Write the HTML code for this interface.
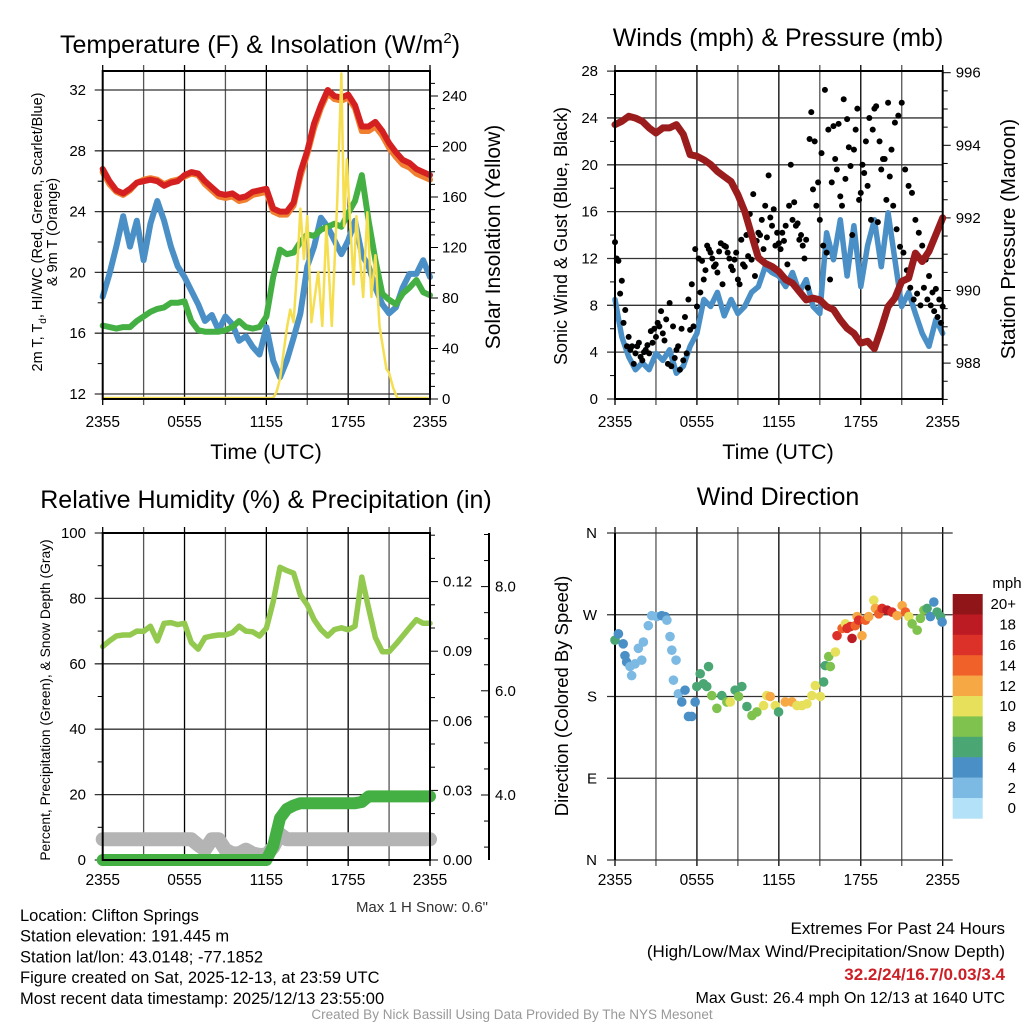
<!DOCTYPE html>
<html><head><meta charset="utf-8">
<style>
html,body{margin:0;padding:0;background:#fff;}
svg{display:block;font-family:"Liberation Sans",sans-serif;}
</style></head>
<body>
<svg id="chart" width="1024" height="1024" viewBox="0 0 1024 1024" xmlns="http://www.w3.org/2000/svg"></svg>
<script>
// ===== Data (hours since 2355 UTC; 0.5h grid) =====
const hourTicks = ['2355','0555','1155','1755','2355'];
const tempRed = [26.8,26.0,25.4,25.2,25.5,25.9,26.0,26.1,26.0,25.7,25.9,26.0,26.4,26.6,26.5,26.0,25.6,25.2,25.1,25.2,24.9,25.0,25.3,25.4,25.5,24.2,24.0,24.0,24.6,26.6,28.0,29.8,31.0,32.0,31.6,31.5,31.7,31.0,29.6,29.6,29.9,29.3,28.5,27.9,27.4,27.2,26.8,26.6,26.4];
const tempOrange = [26.6,25.8,25.3,25.1,25.4,25.9,26.1,26.2,26.1,25.8,26.0,26.1,26.3,26.5,26.4,25.8,25.4,25.0,24.9,25.0,24.7,24.8,25.1,25.2,25.3,24.0,23.8,23.8,24.4,26.3,27.8,29.5,30.8,31.8,31.4,31.3,31.5,30.8,29.3,29.3,29.6,29.0,28.2,27.6,27.1,26.9,26.5,26.3,26.1];
const hiGreen = [16.5,16.4,16.3,16.4,16.4,16.8,17.1,17.4,17.6,17.7,18.0,18.0,18.1,16.8,16.2,16.1,16.1,16.1,16.2,16.4,16.8,16.4,16.3,16.4,17.1,19.7,21.5,21.2,21.3,22.0,22.5,22.4,22.8,23.0,23.2,23.0,23.9,24.7,26.4,23.4,20.8,18.6,18.2,17.9,18.6,19.0,19.5,18.7,18.5];
const dewBlue = [18.4,19.9,21.7,23.7,21.7,23.4,20.8,23.2,24.7,23.4,21.7,20.4,19.7,18.8,17.9,16.8,17.2,16.2,17.1,16.6,15.5,15.8,15.1,14.6,16.4,14.2,13.1,14.2,15.7,17.3,20.4,21.7,23.6,23.0,22.1,21.2,22.1,23.4,21.2,20.4,19.0,17.9,17.3,17.7,19.0,19.9,19.9,20.8,19.7];
const solarHours = [0,12.5,12.75,13,13.25,13.5,13.75,14,14.25,14.5,14.75,15.0,15.3,15.8,16.1,16.4,16.8,17.2,17.5,17.7,17.9,18.4,18.6,19.1,19.4,19.7,20.0,20.3,20.8,21.0,21.3,21.6,24];
const solarValues = [0,0,5,15,35,55,70,60,100,150,110,144,60,100,57,136,57,157,257,136,189,90,144,80,147,80,113,57,23,20,8,0,0];

const windBlue = [8.5,5.3,3.6,2.5,3.1,2.5,3.9,3.3,4.2,2.2,2.8,4.5,5.6,8.5,7.9,9.1,7.1,8.5,7.3,7.9,9.1,9.6,11.3,10.8,10.5,9.6,10.8,9.1,10.2,7.9,7.3,14.2,11.9,15.3,10.5,14.8,9.6,13.1,15.3,11.3,15.9,11.9,7.9,9.1,7.3,5.6,4.5,6.8,5.6];
const gustBlack = [13.4,11.8,10.1,7.6,5.3,4.5,3.9,4.8,3.3,4.2,3.9,4.8,5.3,6.2,5.6,6.8,8.2,6.2,4.2,2.5,3.3,3.9,5.9,6.2,7.9,9.1,10.2,13.1,12.5,11.3,10.8,13.3,13.1,12.5,11.3,11.9,10.2,13.6,11.3,12.2,11.9,10.5,14.2,15.3,16.5,19.1,14.8,13.1,13.3,14.2,14.8,16.5,15.3,14.8,13.6,13.1,13.6,22.2,17.9,16.5,15.3,13.1,12.5,10.2,23.3,19.6,17.3,25.6,23.9,19.9,21.3,24.8,17.6,19.3,18.2,15.3,24.8,15.1,19.6,20.5,25.3,21.3,23.6,24.2,25.3,19.6,18.2,17.6,15.3,14.2,13.1,11.9,10.5,9.1,9.4,8.5,7.9];
const gustBlack2 = [12.0,9.0,6.5,4.5,4.2,3.0,4.5,3.6,4.0,4.6,5.8,6.0,6.5,7.5,5.0,3.0,2.8,3.5,4.5,6.0,7.0,8.5,9.8,12.8,12.0,11.8,11.0,12.8,12.0,11.5,12.6,9.8,13.0,12.0,11.0,12.5,9.8,11.5,14.0,15.8,17.5,13.5,14.0,12.8,13.8,15.5,16.2,14.2,12.8,13.5,11.5,20.0,16.8,15.0,14.0,12.0,9.5,24.5,22.0,18.5,21.0,26.4,23.0,18.5,20.5,23.5,16.5,18.8,21.5,14.0,23.0,17.0,20.0,22.0,24.0,23.0,25.0,22.0,20.5,17.0,19.0,16.5,14.5,13.0,12.5,11.0,9.5,8.5,9.0,8.0,9.5,8.5,8.0,7.5,7.0,6.5];
const pressure = [994.57,994.66,994.8,994.75,994.66,994.48,994.34,994.48,994.48,994.57,994.3,993.74,993.7,993.6,993.47,993.28,993.14,993.0,992.64,992.18,991.54,990.9,990.75,990.66,990.52,990.3,990.2,989.97,989.74,989.79,989.74,989.56,989.47,989.19,988.96,988.82,988.55,988.6,988.4,988.96,989.56,989.79,990.25,990.34,991.03,990.8,991.08,991.54,992.0];

const rhGreen = [65.3,67.0,68.5,68.8,68.8,70.0,69.9,71.5,67.0,72.4,72.6,72.0,72.4,66.5,64.5,68.0,68.5,68.8,68.8,69.5,71.5,70.0,69.8,68.5,70.9,79,89.5,88.5,87.7,81,78,73.5,70.5,68.5,70.5,71.0,70.4,71.5,86.5,77,68,63.7,63.7,66.0,68.5,71.0,73.5,72.4,72.4];
const precip = [0,0,0,0,0,0,0,0,0,0,0,0,0,0,0,0,0,0,0,0,0,0,0,0,0,0.006,0.018,0.022,0.0235,0.0245,0.0245,0.0245,0.0245,0.0245,0.0245,0.0245,0.0245,0.0245,0.025,0.0274,0.0274,0.0274,0.0274,0.0274,0.0274,0.0274,0.0274,0.0274,0.0274];
const snowDepth = [3.15,3.15,3.15,3.15,3.15,3.15,3.15,3.15,3.15,3.15,3.15,3.15,3.15,3.15,3.04,2.95,3.15,3.15,2.95,2.88,2.88,2.95,2.88,2.85,2.85,3.0,3.25,3.15,3.15,3.15,3.15,3.15,3.15,3.15,3.15,3.15,3.15,3.15,3.15,3.15,3.15,3.15,3.15,3.15,3.15,3.15,3.15,3.15,3.15];

const dirHours = [0,0.25,0.6,0.73,0.85,1.1,1.22,1.47,1.71,1.96,2.08,2.44,2.69,3.06,3.42,3.67,3.8,4.03,4.16,4.47,4.28,4.64,4.89,5.13,5.38,5.62,5.87,5.99,6.24,6.48,6.85,6.72,7.09,7.46,7.82,8.19,8.44,8.8,9.05,9.29,9.66,10.03,10.39,10.88,11.12,11.37,11.74,11.98,12.47,12.96,13.33,13.69,14.06,14.42,14.67,15.04,15.28,15.4,15.65,15.77,16.14,16.26,16.63,16.87,16.99,17.24,17.36,17.6,17.73,17.85,18.09,18.34,18.58,18.95,19.07,19.32,19.56,19.93,20.29,20.66,21.03,21.27,21.52,21.76,22.13,22.37,22.62,22.86,23.1,23.35,23.59,23.84,23.96];
const dirDegrees = [242,249,238,225,218,213,203,216,233,220,240,258,269,268,269,268,264,246,231,220,198,183,174,187,158,158,174,191,205,194,213,191,181,167,181,174,174,187,180,191,169,159,163,170,181,180,170,163,174,174,170,170,172,181,192,180,196,214,224,213,229,247,255,260,255,257,244,258,268,264,247,264,268,286,277,271,277,275,273,269,280,273,268,260,253,266,275,277,268,284,273,268,262];
const dirSpeeds = [7,5,4,4,4,3,2,2,2,2,2,2,2,3,4,4,3,2,2,2,2,2,4,4,4,4,4,6,6,6,6,6,8,8,6,8,10,6,8,6,6,8,8,10,10,12,10,6,12,12,10,10,10,10,10,10,6,6,8,8,10,16,14,10,16,16,18,14,12,16,12,14,12,10,12,14,16,18,16,12,12,14,10,8,8,8,8,6,4,4,6,6,4];
const speedBins = ['0','2','4','6','8','10','12','14','16','18','20+'];
const speedColors = ['#b3e1f7','#7cb9e3','#4a90c7','#4aa673','#7fc24d','#e6e05a','#f6a845','#ef6129','#dc3128','#bd1b23','#8f1519'];

// ===== helpers =====
const NS='http://www.w3.org/2000/svg';
const svg=document.getElementById('chart');
function mk(tag,attrs,parent,name,inter){
  const el=document.createElementNS(NS,tag);
  for(const k in attrs) el.setAttribute(k,attrs[k]);
  
  
  (parent||svg).appendChild(el);
  return el;
}
function txt(s,x,y,size,anchor,name,extra){
  const a=Object.assign({x:x,y:y,'font-size':size,'text-anchor':anchor||'middle',fill:'#000'},extra||{});
  const t=mk('text',a,null,name,false);
  t.textContent=s;
  return t;
}
function ln(x1,y1,x2,y2,w,c,name){return mk('line',{x1:x1,y1:y1,x2:x2,y2:y2,stroke:c||'#000','stroke-width':w||1},null,name,false);}
function poly(pts,w,c,name,parent){
  return mk('polyline',{points:pts.map(p=>p[0].toFixed(1)+','+p[1].toFixed(1)).join(' '),fill:'none',stroke:c,'stroke-width':w,'stroke-linejoin':'round','stroke-linecap':'round'},parent,name,false);
}
function grid(L,R,T,B,hlines,nameBase){
  for(let i=0;i<=8;i++){const x=L+i*(R-L)/8; ln(x,T-6,x,B+6,1.3,i%2? '#555':'#000',nameBase+'-vgrid');}
  hlines.forEach(y=>ln(L-8,y,R,y,1.3,'#333',nameBase+'-hgrid'));
}
function frame(L,R,T,B,name){mk('rect',{x:L,y:T,width:R-L,height:B-T,fill:'none',stroke:'#000','stroke-width':2},null,name,false);}
function xlabels(L,R,y,name){hourTicks.forEach((s,i)=>txt(s,L+i*(R-L)/4,y,15.5,'middle',name));}

// ===== Panel 1: Temperature =====
(function(){
  const L=102.7,R=430,T=71,B=399;
  const xs=h=>L+h*(R-L)/24;
  const ys=v=>394-(v-12)*15.2;
  const ysol=v=>399-v*1.2625;
  const gy=[];
  for(let v=12;v<=32;v+=4) gy.push(ys(v));
  grid(L,R,T,B,gy,'temp');
  for(let v=14;v<=30;v+=4) ln(L-5,ys(v),L,ys(v),1,'#000','temp-minor-tick');
  for(let v=12;v<=32;v+=4) txt(String(v),86,ys(v)+5,15,'end','temp-y-tick-label');
  for(let v=0;v<=250;v+=10){const y=ysol(v); if(y<T) break; ln(R,y,R+(v%40==0?8:5),y,1,'#000','solar-tick');}
  for(let v=0;v<=240;v+=40) txt(String(v),R+12,ysol(v)+5,15,'start','solar-y-tick-label');
  const half=(a)=>a.map((v,i)=>[xs(i*0.5),ys(v)]);
  poly(half(dewBlue),6,'#4a90c7','dewpoint-line');
  poly(half(hiGreen),6,'#44b044','heat-index-line');
  poly(half(tempOrange),6,'#f08030','temp-9m-line');
  poly(half(tempRed),6,'#d42020','temp-2m-line');
  const clip=mk('clipPath',{id:'c1'},null,'solar-clip',false);
  mk('rect',{x:L,y:T,width:R-L,height:B-T+4},clip,'solar-clip-rect',false);
  const sp=poly(solarHours.map((h,i)=>[xs(h),ysol(solarValues[i])-1]),2.5,'#f5de50','solar-line');
  sp.setAttribute('clip-path','url(#c1)');
  frame(L,R,T,B,'temp-plot-frame');
  xlabels(L,R,427,'temp-x-tick-label');
  txt('Time (UTC)',266,459,21.5,'middle','temp-x-axis-title');
  const t=txt('Temperature (F) & Insolation (W/m',260,53,25,'middle','temp-title');
  const ts=document.createElementNS(NS,'tspan'); ts.setAttribute('dy','-10'); ts.setAttribute('font-size','15'); ts.textContent='2'; t.appendChild(ts);
  const ts2=document.createElementNS(NS,'tspan'); ts2.setAttribute('dy','10'); ts2.textContent=')'; t.appendChild(ts2);
  const y1=txt('2m T, T',0,0,14.5,'middle','temp-y-axis-title',{transform:'translate(42,232) rotate(-90)'});
  const sub=document.createElementNS(NS,'tspan'); sub.setAttribute('dy','4'); sub.setAttribute('font-size','10'); sub.textContent='d'; y1.appendChild(sub);
  const rest=document.createElementNS(NS,'tspan'); rest.setAttribute('dy','-4'); rest.textContent=', HI/WC (Red, Green, Scarlet/Blue)'; y1.appendChild(rest);
  txt('& 9m T (Orange)',0,0,14.5,'middle','temp-y-axis-title-2',{transform:'translate(57,232) rotate(-90)'});
  txt('Solar Insolation (Yellow)',0,0,21,'middle','solar-y-axis-title',{transform:'translate(500,237) rotate(-90)'});
})();

// ===== Panel 2: Winds =====
(function(){
  const L=615,R=942.7,T=71,B=399;
  const xs=h=>L+h*(R-L)/24;
  const ys=v=>399-v*11.71;
  const yp=p=>72.7+(996-p)*36.3;
  const gy=[];
  for(let v=0;v<=28;v+=4) gy.push(ys(v));
  grid(L,R,T,B,gy,'wind');
  for(let v=2;v<=26;v+=4) ln(L-5,ys(v),L,ys(v),1,'#000','wind-minor-tick');
  for(let v=0;v<=28;v+=4) txt(String(v),598,ys(v)+5,15,'end','wind-y-tick-label');
  for(let p=987;p<=996;p+=0.5){const y=yp(p); if(y>B+1) continue; ln(R,y,R+(p%2==0?8:5),y,1,'#000','pressure-tick');}
  for(let p=988;p<=996;p+=2) txt(String(p),R+13,yp(p)+5,15,'start','pressure-y-tick-label');
  poly(windBlue.map((v,i)=>[xs(i*0.5),ys(v)]),5.5,'#4a90c7','sonic-wind-line');
  gustBlack.forEach((v,i)=>{
    mk('circle',{cx:xs(i*0.25),cy:ys(v),r:3,fill:'#000'},null,'gust-point',false);
  });
  gustBlack2.forEach((v,i)=>{
    mk('circle',{cx:xs(0.125+i*0.25),cy:ys(v),r:3,fill:'#000'},null,'gust-point',false);
  });
  poly(pressure.map((v,i)=>[xs(i*0.5),yp(v)]),7,'#9b1c1c','pressure-line');
  frame(L,R,T,B,'wind-plot-frame');
  xlabels(L,R,427,'wind-x-tick-label');
  txt('Time (UTC)',778,459,21.5,'middle','wind-x-axis-title');
  txt('Winds (mph) & Pressure (mb)',778,46,25,'middle','wind-title');
  txt('Sonic Wind & Gust (Blue, Black)',0,0,18,'middle','wind-y-axis-title',{transform:'translate(567,236) rotate(-90)'});
  txt('Station Pressure (Maroon)',0,0,20.5,'middle','pressure-y-axis-title',{transform:'translate(1015,239) rotate(-90)'});
})();

// ===== Panel 3: RH & Precip =====
(function(){
  const L=102.7,R=430,T=533,B=860;
  const xs=h=>L+h*(R-L)/24;
  const ys=v=>860-v*3.27;
  const ypr=v=>860-v*2320;
  const ysn=v=>795-(v-4)*52.1;
  const gy=[];
  for(let v=0;v<=100;v+=20) gy.push(ys(v));
  grid(L,R,T,B,gy,'rh');
  for(let v=10;v<=90;v+=20) ln(L-5,ys(v),L,ys(v),1,'#000','rh-minor-tick');
  for(let v=0;v<=100;v+=20) txt(String(v),86,ys(v)+5,15,'end','rh-y-tick-label');
  for(let k=0;k<=14;k++){const v=k*0.01; const y=ypr(v); if(y<T) break; ln(R,y,R+(k%3==0?8:5),y,1,'#000','precip-tick');}
  for(let k=0;k<=4;k++) txt((k*0.03).toFixed(2),R+13,ypr(k*0.03)+5,15,'start','precip-y-tick-label');
  ln(489,T,489,B,2,'#000','snow-axis-line');
  for(let v=2;v<=9;v+=0.5){const y=ysn(v); if(y<T||y>B) continue; ln(489,y,(v%2==0)?481:484,y,1,'#000','snow-tick');}
  for(let v=4;v<=8;v+=2) txt(v.toFixed(1),495,ysn(v)+5,15,'start','snow-y-tick-label');
  poly(snowDepth.map((v,i)=>[xs(i*0.5),ysn(v)]),14,'#b4b4b4','snow-depth-line');
  poly(precip.map((v,i)=>[xs(i*0.5),ypr(v)]),12,'#44b044','precip-line');
  poly(rhGreen.map((v,i)=>[xs(i*0.5),ys(v)]),5.5,'#93c94f','rh-line');
  frame(L,R,T,B,'rh-plot-frame');
  xlabels(L,R,885,'rh-x-tick-label');
  txt('Relative Humidity (%) & Precipitation (in)',266,508,25,'middle','rh-title');
  txt('Percent, Precipitation (Green), & Snow Depth (Gray)',0,0,13.8,'middle','rh-y-axis-title',{transform:'translate(50,700) rotate(-90)'});
  txt('Max 1 H Snow: 0.6"',488,912,15,'end','max-snow-label',{fill:'#333'});
})();

// ===== Panel 4: Wind Direction =====
(function(){
  const L=615,R=942.7,T=533,B=860;
  const xs=h=>L+h*(R-L)/24;
  const yd=d=>860-d*327/360;
  const gy=[];
  for(let d=0;d<=360;d+=90) gy.push(yd(d));
  for(let i=0;i<=8;i++){const x=L+i*(R-L)/8; ln(x,T-6,x,B+6,1.3,i%2?'#555':'#000','dir-vgrid');}
  gy.forEach(y=>ln(L-8,y,R+10,y,1.3,'#333','dir-hgrid'));
  ['N','E','S','W','N'].forEach((s,i)=>txt(s,597,yd(i*90)+5,15,'end','dir-y-tick-label'));
  ln(L,T,L,B,2,'#000','dir-left-axis');
  dirHours.forEach((h,i)=>{
    const bin=Math.min(10,Math.floor(dirSpeeds[i]/2));
    mk('circle',{cx:xs(h),cy:yd(dirDegrees[i]),r:4.8,fill:speedColors[bin]},null,'direction-point',false);
  });
  xlabels(L,R,885,'dir-x-tick-label');
  txt('Wind Direction',778,505,25,'middle','dir-title');
  txt('Direction (Colored By Speed)',0,0,18.5,'middle','dir-y-axis-title',{transform:'translate(568,696) rotate(-90)'});
  txt('mph',1007,588,15,'middle','colorbar-title');
  const bh=20.4;
  for(let i=0;i<11;i++){
    const y=594+i*bh, idx=10-i;
    mk('rect',{x:952.7,y:y,width:30,height:bh+0.3,fill:speedColors[idx]},null,'colorbar-box',false);
    txt(speedBins[idx],1016,y+bh/2+5,15,'end','colorbar-label');
  }
})();

// ===== Footer text =====
['Location: Clifton Springs','Station elevation: 191.445 m','Station lat/lon: 43.0148; -77.1852','Figure created on Sat, 2025-12-13, at 23:59 UTC','Most recent data timestamp: 2025/12/13 23:55:00'].forEach((s,i)=>{
  txt(s,20,921+i*20.7,16.5,'start','station-info-line');
});
txt('Extremes For Past 24 Hours',1005,934,17,'end','extremes-title');
txt('(High/Low/Max Wind/Precipitation/Snow Depth)',1005,957,17,'end','extremes-subtitle');
txt('32.2/24/16.7/0.03/3.4',1005,980,17,'end','extremes-values',{fill:'#cc2027','font-weight':'bold'});
txt('Max Gust: 26.4 mph On 12/13 at 1640 UTC',1005,1003,16,'end','max-gust-text');
txt('Created By Nick Bassill Using Data Provided By The NYS Mesonet',512,1019,13.5,'middle','credit-text',{fill:'#999'});
</script>
</body></html>
